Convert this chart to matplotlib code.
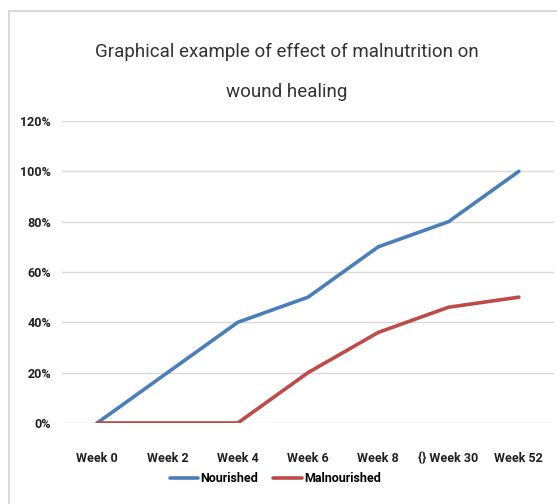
import matplotlib.pyplot as plt
from matplotlib.patches import Rectangle
from matplotlib.ticker import PercentFormatter

# ====================================
# DATA
# ====================================

weeks = ["Week 0", "Week 2", "Week 4", "Week 6", "Week 8", "{} Week 30", "Week 52"]
nourished = [0.0, 0.20, 0.40, 0.50, 0.70, 0.80, 1.00]
malnourished = [0.0, 0.0, 0.0, 0.20, 0.36, 0.46, 0.50]

blue = "#4A7EBB"
red = "#BE4B48"

plt.rcParams['font.family'] = ['Roboto', 'DejaVu Sans']

# ====================================
# FIGURE
# ====================================

fig = plt.figure(figsize=(5.57, 5.04), dpi=100)

# light chart-area frame (cropped at right/bottom in the reference)
fig.patches.append(Rectangle((9 / 557, -0.1), 1.2, 1 - 11 / 504 + 0.1,
                             transform=fig.transFigure, fill=False,
                             edgecolor="#D9D9D9", linewidth=1.5))

ax = fig.add_axes([62 / 557, 1 - 423 / 504, (554 - 62) / 557, (423 - 121) / 504])

x = list(range(len(weeks)))
ax.plot(x, nourished, color=blue, linewidth=2.6, label="Nourished",
        solid_capstyle="round")
ax.plot(x, malnourished, color=red, linewidth=2.6, label="Malnourished",
        solid_capstyle="round")

ax.set_xlim(-0.5, len(weeks) - 0.5)
ax.set_ylim(0, 1.2)
ax.set_yticks([0, 0.2, 0.4, 0.6, 0.8, 1.0, 1.2])
ax.yaxis.set_major_formatter(PercentFormatter(1.0, decimals=0))
ax.set_xticks(x)
ax.set_xticklabels(weeks)

ax.grid(axis="y", color="#D9D9D9", linewidth=1)
ax.set_axisbelow(True)
for s in ax.spines.values():
    s.set_visible(False)
ax.tick_params(length=0, labelsize=9, labelcolor="#202020")
ax.tick_params(axis="y", pad=8)
ax.tick_params(axis="x", pad=21)
for lbl in ax.get_xticklabels() + ax.get_yticklabels():
    lbl.set_fontweight("bold")

fig.text(0.515, 1 - 52 / 504, "Graphical example of effect of malnutrition on",
         ha="center", va="center", fontsize=13.5, color="#333333")
fig.text(0.515, 1 - 92 / 504, "wound healing",
         ha="center", va="center", fontsize=13.5, color="#333333")

fig.legend(loc="center", bbox_to_anchor=(0.494, 1 - 479 / 504), ncol=2,
           frameon=False, handlelength=2.3, handletextpad=0.15,
           columnspacing=1.2, prop={'weight': 'bold', 'size': 9})

plt.savefig("out.png", dpi=100)
plt.close()
